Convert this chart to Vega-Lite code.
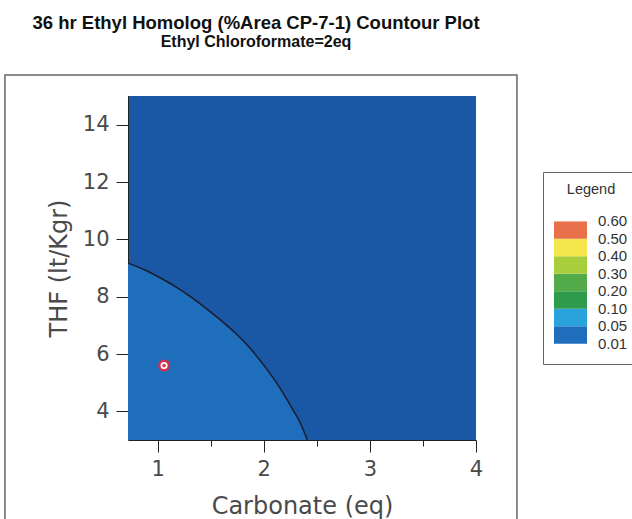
{
  "$schema": "https://vega.github.io/schema/vega-lite/v6.json",
  "width": 348,
  "height": 344,
  "autosize": {"type": "none"},
  "padding": {"left": 128, "top": 96, "right": 156, "bottom": 79},
  "background": "white",
  "title": {
    "text": "36 hr Ethyl Homolog (%Area CP-7-1) Countour Plot",
    "subtitle": "Ethyl Chloroformate=2eq",
    "font": "Liberation Sans",
    "fontSize": 18.5,
    "fontWeight": "bold",
    "color": "#111111",
    "subtitleFont": "Liberation Sans",
    "subtitleFontSize": 16,
    "subtitleFontWeight": "bold",
    "subtitleColor": "#111111",
    "subtitlePadding": 2,
    "anchor": "middle",
    "frame": "group",
    "dx": -46,
    "offset": 24
  },
  "config": {
    "view": {"fill": "#1A58A5", "stroke": null},
    "axis": {
      "labelFont": "DejaVu Sans",
      "labelFontSize": 21,
      "labelColor": "#4a4a4a",
      "titleFont": "DejaVu Sans",
      "titleFontSize": 24,
      "titleFontWeight": "normal",
      "titleColor": "#4a4a4a",
      "domainColor": "#222222",
      "tickColor": "#222222",
      "grid": false,
      "labelFlush": false,
      "labelOverlap": false
    }
  },
  "datasets": {
    "contour": [
      {"carbonate": 0.72, "thf": 9.17, "band": 1},
      {"carbonate": 0.88, "thf": 8.93, "band": 1},
      {"carbonate": 1.022, "thf": 8.66, "band": 1},
      {"carbonate": 1.163, "thf": 8.36, "band": 1},
      {"carbonate": 1.305, "thf": 8.01, "band": 1},
      {"carbonate": 1.446, "thf": 7.62, "band": 1},
      {"carbonate": 1.588, "thf": 7.2, "band": 1},
      {"carbonate": 1.729, "thf": 6.74, "band": 1},
      {"carbonate": 1.871, "thf": 6.2, "band": 1},
      {"carbonate": 2.012, "thf": 5.55, "band": 1},
      {"carbonate": 2.154, "thf": 4.8, "band": 1},
      {"carbonate": 2.267, "thf": 4.1, "band": 1},
      {"carbonate": 2.343, "thf": 3.6, "band": 1},
      {"carbonate": 2.41, "thf": 3.0, "band": 1}
    ],
    "run": [{"carbonate": 1.06, "thf": 5.6}]
  },
  "layer": [
    {
      "data": {"name": "contour"},
      "mark": {"type": "area", "opacity": 1, "interpolate": "monotone"},
      "encoding": {
        "x": {
          "field": "carbonate", "type": "quantitative", "title": "Carbonate (eq)",
          "scale": {"domain": [0.72, 4], "nice": false, "zero": false},
          "axis": {
            "values": [1, 1.5, 2, 2.5, 3, 3.5, 4],
            "labelExpr": "datum.value % 1 === 0 ? format(datum.value, 'd') : ''",
            "tickSize": {"condition": {"test": "datum.value % 1 === 0", "value": 12}, "value": 6},
            "labelPadding": 6,
            "titlePadding": 15
          }
        },
        "y": {
          "field": "thf", "type": "quantitative", "title": "THF (lt/Kgr)", "stack": null,
          "scale": {"domain": [3, 15], "nice": false, "zero": false},
          "axis": {
            "values": [4, 5, 6, 7, 8, 9, 10, 11, 12, 13, 14],
            "labelExpr": "datum.value % 2 === 0 ? format(datum.value, 'd') : ''",
            "tickSize": {"condition": {"test": "datum.value % 2 === 0", "value": 12}, "value": 6},
            "labelPadding": 7,
            "titlePadding": 11
          }
        },
        "y2": {"datum": 3},
        "color": {
          "field": "band", "type": "quantitative",
          "scale": {
            "type": "quantize", "domain": [0, 8], "nice": false, "zero": false,
            "range": ["#ffffff", "#1F6EBB", "#1F6EBB", "#2AA2DB", "#2AA2DB", "#2E9A4C", "#2E9A4C", "#52AA48", "#52AA48", "#A9CE3B", "#A9CE3B", "#F5E64E", "#F5E64E", "#E8714B", "#E8714B", "#ffffff"]
          },
          "legend": {
            "type": "gradient",
            "orient": "none",
            "legendX": 415,
            "legendY": 76,
            "direction": "vertical",
            "title": "Legend",
            "titleAnchor": "middle",
            "titleFont": "Liberation Sans",
            "titleFontSize": 14.5,
            "titleFontWeight": "normal",
            "titleColor": "#333333",
            "titlePadding": 15,
            "gradientLength": 140,
            "gradientThickness": 33,
            "gradientStrokeWidth": 0,
            "values": [0, 0.5, 1.5, 2.5, 3.5, 4.5, 5.5, 6.5, 7.5],
            "labelExpr": "datum.value < 0.25 ? '' : ['0.01','0.05','0.10','0.20','0.30','0.40','0.50','0.60'][floor(datum.value)]",
            "labelFont": "Liberation Sans",
            "labelFontSize": 15,
            "labelColor": "#333333",
            "labelOffset": 11,
            "labelOverlap": false,
            "labelBaseline": "middle",
            "padding": 11,
            "strokeColor": "#666666",
            "fillColor": "white"
          }
        }
      }
    },
    {
      "data": {"name": "contour"},
      "mark": {"type": "line", "color": "#1b1b2b", "strokeWidth": 1.5, "interpolate": "monotone"},
      "encoding": {
        "x": {"field": "carbonate", "type": "quantitative", "title": "Carbonate (eq)"},
        "y": {"field": "thf", "type": "quantitative", "title": "THF (lt/Kgr)"}
      }
    },
    {
      "data": {"name": "run"},
      "mark": {"type": "point", "shape": "circle", "filled": true, "fill": "#D8304A", "size": 140, "opacity": 1, "strokeWidth": 0},
      "encoding": {
        "x": {"field": "carbonate", "type": "quantitative", "title": "Carbonate (eq)"},
        "y": {"field": "thf", "type": "quantitative", "title": "THF (lt/Kgr)"}
      }
    },
    {
      "data": {"name": "run"},
      "mark": {"type": "point", "shape": "circle", "filled": false, "stroke": "white", "strokeWidth": 1.8, "size": 28, "opacity": 1},
      "encoding": {
        "x": {"field": "carbonate", "type": "quantitative", "title": "Carbonate (eq)"},
        "y": {"field": "thf", "type": "quantitative", "title": "THF (lt/Kgr)"}
      }
    },
    {
      "data": {"values": [{}]},
      "mark": {"type": "rect", "fill": null, "stroke": "#666666", "strokeWidth": 1.5, "clip": false},
      "encoding": {
        "x": {"datum": -0.44, "type": "quantitative", "title": "Carbonate (eq)"},
        "x2": {"datum": 4.386},
        "y": {"datum": 15.73, "type": "quantitative", "title": "THF (lt/Kgr)"},
        "y2": {"datum": -0.3}
      }
    }
  ]
}
